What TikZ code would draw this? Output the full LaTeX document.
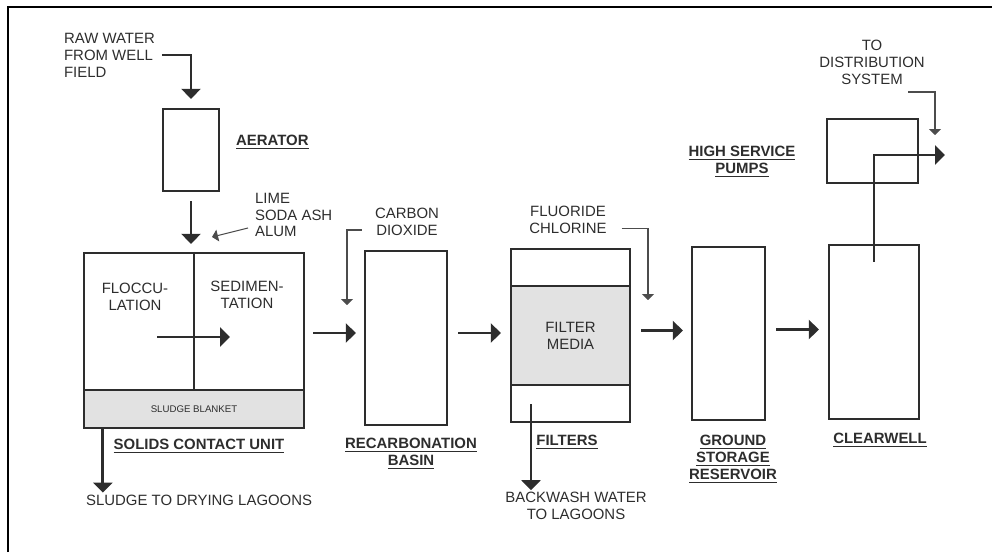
\documentclass[tikz,border=0pt]{standalone}
\usepackage{fontspec}
\setmainfont{Liberation Sans}
\usetikzlibrary{arrows.meta,calc}
\definecolor{ink}{RGB}{45,45,45}
\definecolor{media}{RGB}{226,226,226}

\begin{document}
\begin{tikzpicture}[x=0.02cm, y=-0.02cm, every node/.style={font=\fontsize{8.5}{9.6}\selectfont, text=ink}]
  \tikzset{
      tank/.style={draw=ink, line width=1.3pt, inner sep=0pt},
      bed/.style={draw=ink, line width=1.1pt, fill=media, inner sep=0pt, align=center},
      unit/.style={font=\fontsize{8.5}{9.6}\selectfont\bfseries, align=center, inner sep=1pt},
      note/.style={align=center, inner sep=1pt},
      flow/.style={draw=ink, line width=1.6pt, -{Triangle[width=0.38cm,length=0.2cm]}},
      feed/.style={draw=ink!85, line width=0.6pt, -{Triangle[width=0.24cm,length=0.12cm]}}
  }
  \useasboundingbox (0,0) rectangle (992,552);
  \draw[line width=0.8pt] (8,552) -- (8,7) -- (992,7);

  % tanks
  \node[tank, minimum width=1.12cm, minimum height=1.64cm] (aerator)   at (191,150)   {};
  \node[tank, minimum width=4.4cm,  minimum height=3.5cm]  (scu)       at (194,340.5) {};
  \node[bed,  minimum width=4.4cm,  minimum height=0.76cm, font=\fontsize{5.5}{6}\selectfont] (blanket) at (194,409) {SLUDGE BLANKET};
  \node[tank, minimum width=1.64cm, minimum height=3.48cm] (recarb)    at (406,338)   {};
  \node[tank, minimum width=2.38cm, minimum height=3.46cm] (filter)    at (570.5,335.5) {};
  \node[bed,  minimum width=2.38cm, minimum height=1.98cm] (media)     at (570.5,335.5) {FILTER\\MEDIA};
  \node[tank, minimum width=1.46cm, minimum height=3.46cm] (ground)    at (728.5,333.5) {};
  \node[tank, minimum width=1.8cm,  minimum height=3.48cm] (clearwell) at (874,332)   {};
  \node[tank, minimum width=1.82cm, minimum height=1.28cm] (pumps)     at (872.5,151) {};
  \draw[ink, line width=1.3pt] (scu.north) -- (blanket.north);

  % texts
  \node[note] (floc) at (135,297) {FLOCCU-\\LATION};
  \node[note] (sedi) at (247,295) {SEDIMEN-\\TATION};
  \node[note, anchor=west, align=left] (raw)  at (62,55)   {RAW WATER\\FROM WELL\\FIELD};
  \node[note, anchor=west, align=left] (chem) at (253,215)  {LIME\\SODA ASH\\ALUM};
  \node[note] (carbon)   at (407,221.5) {CARBON\\DIOXIDE};
  \node[note] (fluor)    at (568,220)   {FLUORIDE\\CHLORINE};
  \node[note] (dist)     at (872,62)    {TO\\DISTRIBUTION\\SYSTEM};
  \node[note, anchor=west] (sludge) at (84,500) {SLUDGE TO DRYING LAGOONS};
  \node[note] (backwash) at (576,506)   {BACKWASH WATER\\TO LAGOONS};

  \node[unit, anchor=west] (aeratorlbl) at (234,142) {\underline{AERATOR}};
  \node[unit] (sculbl)    at (199,446) {\underline{SOLIDS CONTACT UNIT}};
  \node[unit] (recarblbl) at (411,454) {\underline{RECARBONATION}\\\underline{BASIN}};
  \node[unit] (filterlbl) at (567,442) {\underline{FILTERS}};
  \node[unit] (groundlbl) at (733,459) {\underline{GROUND}\\\underline{STORAGE}\\\underline{RESERVOIR}};
  \node[unit] (clearlbl)  at (880,440) {\underline{CLEARWELL}};
  \node[unit] (pumpslbl)  at (742,162) {\underline{HIGH SERVICE}\\\underline{PUMPS}};

  % free ends
  \coordinate (mixA)      at (157,337);
  \coordinate (mixB)      at (230,337);
  \coordinate (limeTip)   at (212,237);
  \coordinate (co2Tip)    at (347,305);
  \coordinate (fluorTip)  at (648,300);
  \coordinate (bwStart)   at (531,404);
  \coordinate (distStart) at (908,92);
  \coordinate (distTip)   at (935,135);
  \coordinate (distOut)   at (945,155);
  \coordinate (sludgeOut) at ([xshift=0.4cm]scu.south west);

  % main flow
  \draw[flow] ([xshift=0.1cm]raw.east) -| ([yshift=0.18cm]aerator.north);
  \draw[flow, shorten <=0.18cm, shorten >=0.16cm] (aerator.south) -- (aerator.south |- scu.north);
  \draw[flow] (mixA) -- (mixB);
  \draw[flow, shorten <=0.16cm, shorten >=0.16cm] ([yshift=0.15cm]scu.east) -- ([yshift=0.15cm]scu.east -| recarb.west);
  \draw[flow, shorten <=0.2cm, shorten >=0.18cm] ([yshift=0.1cm]recarb.east) -- ([yshift=0.1cm]recarb.east -| filter.west);
  \draw[flow, shorten <=0.2cm, shorten >=0.16cm] ([yshift=0.1cm]filter.east) -- ([yshift=0.1cm]filter.east -| ground.west);
  \draw[flow, shorten <=0.2cm, shorten >=0.18cm] ([yshift=0.08cm]ground.east) -- ([yshift=0.08cm]ground.east -| clearwell.west);
  \draw[flow] ([yshift=-0.36cm]clearwell.north) |- (distOut);
  \draw[flow] (sludgeOut) -- (sludgeOut |- sludge.north);
  \draw[flow] (bwStart) -- (bwStart |- backwash.north);

  % chemical feeds
  \draw[feed] ([shift={(-0.1cm,-0.26cm)}]chem.west) -- (limeTip);
  \draw[feed] ([shift={(-0.22cm,-0.17cm)}]carbon.west) -| (co2Tip);
  \draw[feed] ([shift={(0.26cm,-0.17cm)}]fluor.east) -| (fluorTip);
  \draw[feed] (distStart) -| (distTip);
\end{tikzpicture}
\end{document}
